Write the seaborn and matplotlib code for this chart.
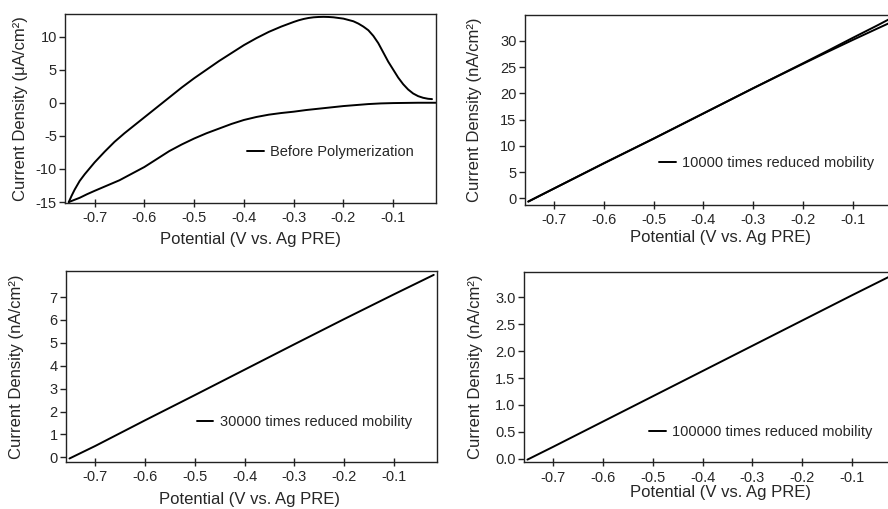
import matplotlib
matplotlib.use("Agg")
import matplotlib.pyplot as plt
import pandas as pd
import seaborn as sns

# --- data ------------------------------------------------------------------
# panel 1 : cyclic voltammogram before polymerization (uA/cm2)
cv_fwd_x = [-0.752, -0.746, -0.74, -0.73, -0.72, -0.71, -0.70, -0.68, -0.66,
            -0.64, -0.62, -0.60, -0.575, -0.55, -0.525, -0.50, -0.475, -0.45,
            -0.425, -0.40, -0.375, -0.35, -0.325, -0.30, -0.29, -0.28, -0.27,
            -0.26, -0.25, -0.24, -0.23, -0.22, -0.21, -0.20, -0.19, -0.18,
            -0.17, -0.16, -0.15, -0.14, -0.13, -0.12, -0.11, -0.10, -0.09,
            -0.08, -0.07, -0.06, -0.05, -0.04, -0.03, -0.022]
cv_fwd_y = [-15.0, -14.0, -13.1, -11.8, -10.8, -9.9, -9.0, -7.4, -5.9,
            -4.6, -3.4, -2.2, -0.7, 0.8, 2.3, 3.7, 5.0, 6.3,
            7.5, 8.7, 9.75, 10.7, 11.5, 12.2, 12.45, 12.65, 12.8,
            12.9, 12.95, 12.97, 12.95, 12.9, 12.8, 12.7, 12.5, 12.3,
            11.95, 11.5, 10.95, 10.1, 9.0, 7.6, 6.2, 5.0, 3.8,
            2.8, 2.0, 1.4, 1.0, 0.75, 0.6, 0.55]
cv_rev_x = [-0.014, -0.05, -0.10, -0.125, -0.15, -0.175, -0.20, -0.225, -0.25,
            -0.275, -0.30, -0.325, -0.35, -0.375, -0.40, -0.425, -0.45, -0.475,
            -0.50, -0.525, -0.55, -0.575, -0.60, -0.625, -0.65, -0.675, -0.70,
            -0.715, -0.73, -0.742, -0.752]
cv_rev_y = [0.0, 0.0, -0.05, -0.1, -0.2, -0.35, -0.5, -0.7, -0.9,
            -1.1, -1.35, -1.55, -1.8, -2.15, -2.6, -3.2, -3.9, -4.6,
            -5.4, -6.3, -7.3, -8.5, -9.7, -10.7, -11.7, -12.5, -13.3,
            -13.8, -14.35, -14.7, -15.0]

# panel 2 : 10000 times reduced mobility (nA/cm2)
m1_x = [-0.752, -0.70, -0.60, -0.50, -0.40, -0.30, -0.20, -0.15, -0.10, -0.05, -0.02]
m1_fwd = [-0.6, 1.9, 6.7, 11.4, 16.2, 21.0, 25.75, 28.15, 30.6, 33.0, 34.5]
m1_rev = [-0.6, 1.9, 6.7, 11.4, 16.2, 21.0, 25.65, 27.95, 30.2, 32.4, 33.7]

# panel 3 : 30000 times reduced mobility
m3_x = [-0.752, -0.70, -0.60, -0.50, -0.40, -0.30, -0.20, -0.10, -0.02]
m3_y = [-0.05, 0.50, 1.62, 2.72, 3.83, 4.94, 6.04, 7.12, 7.97]

# panel 4 : 100000 times reduced mobility
m10_x = [-0.752, -0.70, -0.60, -0.50, -0.40, -0.30, -0.20, -0.10, -0.02]
m10_y = [-0.02, 0.22, 0.69, 1.16, 1.63, 2.10, 2.57, 3.04, 3.41]

x_ticks = [-0.7, -0.6, -0.5, -0.4, -0.3, -0.2, -0.1]
x_label = "Potential (V vs. Ag PRE)"

# --- style ------------------------------------------------------------------
sns.set_style("ticks")
plt.rcParams["font.family"] = ["Liberation Sans", "DejaVu Sans"]
plt.rcParams["axes.unicode_minus"] = False

fig = plt.figure(figsize=(8.88, 5.09), dpi=100)
W = 0.4175
ax1 = fig.add_axes([0.0735, 0.601, W, 0.3715])
ax2 = fig.add_axes([0.591, 0.597, W, 0.374])
ax3 = fig.add_axes([0.0743, 0.0929, W, 0.3747])
ax4 = fig.add_axes([0.590, 0.0917, W, 0.3745])

line_kw = dict(color="black", linewidth=1.4, sort=False, estimator=None)


def draw(ax, xs, ys):
    for x, y in zip(xs, ys):
        df = pd.DataFrame({"x": x, "y": y})
        sns.lineplot(data=df, x="x", y="y", ax=ax, **line_kw)


def style(ax, ylim, yticks, yfmt, ylab, ylab_x, xlab_pos, leg_pos, label):
    ax.set_xlim(-0.759, -0.014)
    ax.set_ylim(*ylim)
    ax.set_xticks(x_ticks)
    ax.set_xticklabels([f"{t:.1f}" for t in x_ticks])
    ax.set_yticks(yticks)
    ax.set_yticklabels([yfmt.format(t) for t in yticks])
    for sp in ax.spines.values():
        sp.set_visible(True)
        sp.set_linewidth(1.0)
        sp.set_color("#222222")
    ax.tick_params(axis="x", direction="inout", length=6, width=1.0,
                   labelsize=10.5, pad=3, color="#222222")
    ax.tick_params(axis="y", direction="out", length=4, width=1.0,
                   labelsize=10.5, pad=2, color="#222222")
    ax.set_xlabel(x_label, fontsize=12)
    ax.set_ylabel(ylab, fontsize=12)
    ax.xaxis.set_label_coords(*xlab_pos)
    ax.yaxis.set_label_coords(ylab_x, 0.5)
    ax.legend([ax.lines[0]], [label], loc="center left",
              bbox_to_anchor=leg_pos, frameon=False, fontsize=10.5,
              borderpad=0, borderaxespad=0, handlelength=1.15,
              handletextpad=0.45)


draw(ax1, [cv_fwd_x, cv_rev_x], [cv_fwd_y, cv_rev_y])
style(ax1, (-15.15, 13.4), [-15, -10, -5, 0, 5, 10], "{:d}",
      "Current Density (\u03bcA/cm\u00b2)", -0.10, (0.5, -0.155),
      (0.49, 0.271), "Before Polymerization")

draw(ax2, [m1_x, m1_x], [m1_fwd, m1_rev])
style(ax2, (-1.28, 35.0), [0, 5, 10, 15, 20, 25, 30], "{:d}",
      "Current Density (nA/cm\u00b2)", -0.115, (0.528, -0.131),
      (0.362, 0.219), "10000 times reduced mobility")

draw(ax3, [m3_x], [m3_y])
style(ax3, (-0.19, 8.14), [0, 1, 2, 3, 4, 5, 6, 7], "{:d}",
      "Current Density (nA/cm\u00b2)", -0.112, (0.496, -0.157),
      (0.3526, 0.21), "30000 times reduced mobility")

draw(ax4, [m10_x], [m10_y])
style(ax4, (-0.07, 3.48), [0.0, 0.5, 1.0, 1.5, 2.0, 2.5, 3.0], "{:.1f}",
      "Current Density (nA/cm\u00b2)", -0.111, (0.53, -0.119),
      (0.337, 0.16), "100000 times reduced mobility")

fig.savefig("out.png", dpi=100)
